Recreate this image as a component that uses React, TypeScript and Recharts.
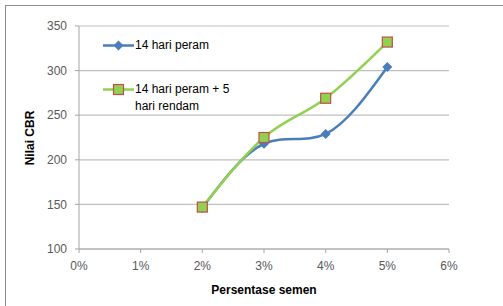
import { CartesianGrid, Line, LineChart, XAxis, YAxis } from 'recharts';

const cementPct = [2, 3, 4, 5];
const cbrPeram = [146, 218, 229, 304];
const cbrPeramRendam = [147, 225, 269, 332];
const xTicks = [0, 1, 2, 3, 4, 5, 6];
const yTicks = [100, 150, 200, 250, 300, 350];

const data = cementPct.map((x, i) => ({ x, peram: cbrPeram[i], rendam: cbrPeramRendam[i] }));

const blue = '#4A7EBB';
const green = '#92D050';
const red = '#C0504D';
const textGray = '#595959';
const font = '"Liberation Sans", Arial, sans-serif';

const Diamond = ({ cx, cy }: any) => (
	<path d={`M${cx},${cy - 5}L${cx + 5},${cy}L${cx},${cy + 5}L${cx - 5},${cy}Z`} fill={blue} />
);

const Square = ({ cx, cy }: any) => (
	<rect x={cx - 5} y={cy - 5} width={10} height={10} fill={green} stroke={red} strokeWidth={1.2} />
);

const LegendBox = () => (
	<div
		style={{
			position: 'absolute',
			left: 103,
			top: 37,
			fontFamily: font,
			fontSize: 12,
			color: '#000',
			lineHeight: '17px',
		}}
	>
		<div style={{ display: 'flex', alignItems: 'flex-start' }}>
			<svg width={31} height={17}>
				<line x1={0} y1={8.5} x2={31} y2={8.5} stroke={blue} strokeWidth={2.5} />
				<Diamond cx={15.5} cy={8.5} />
			</svg>
			<span style={{ marginLeft: 1 }}>14 hari peram</span>
		</div>
		<div style={{ display: 'flex', alignItems: 'flex-start', marginTop: 27 }}>
			<svg width={31} height={17}>
				<line x1={0} y1={8.5} x2={31} y2={8.5} stroke={green} strokeWidth={2.5} />
				<Square cx={15.5} cy={8.5} />
			</svg>
			<span style={{ marginLeft: 1 }}>
				14 hari peram + 5
				<br />
				hari rendam
			</span>
		</div>
	</div>
);

export default function App() {
	return (
		<div style={{ position: 'absolute', left: 0, top: 0, width: 503, height: 306, background: '#fff', overflow: 'hidden' }}>
			<div
				style={{
					position: 'absolute',
					left: 5,
					top: 5,
					width: 520,
					height: 320,
					borderLeft: '1px solid #8C8C8C',
					borderTop: '1px solid #8C8C8C',
				}}
			/>
			<LineChart
				width={503}
				height={306}
				data={data}
				margin={{ top: 26, right: 54, bottom: 27, left: 0 }}
				style={{ position: 'absolute', left: 0, top: 0 }}
			>
				<CartesianGrid vertical={false} stroke="#BFBFBF" strokeWidth={1.2} />
				<XAxis
					type="number"
					dataKey="x"
					domain={[0, 6]}
					ticks={xTicks}
					tickFormatter={(v) => `${v}%`}
					stroke="#A6A6A6"
					tickSize={4}
					tickMargin={8}
					height={30}
					tick={{ fontSize: 12, fill: textGray, fontFamily: font }}
					label={{
						content: () => (
							<text x={264} y={290} textAnchor="middle" dominantBaseline="central" fontFamily={font} fontSize={12} fontWeight="bold" fill="#000">
								Persentase semen
							</text>
						),
					}}
				/>
				<YAxis
					domain={[100, 350]}
					ticks={yTicks}
					width={79}
					stroke="#A6A6A6"
					tickSize={4}
					tickMargin={8}
					tick={{ fontSize: 12, fill: textGray, fontFamily: font }}
					label={{
						content: () => (
							<text
								x={30}
								y={138}
								transform="rotate(-90 30 138)"
								textAnchor="middle"
								dominantBaseline="central"
								fontFamily={font}
								fontSize={12}
								fontWeight="bold"
								fill="#000"
							>
								Nilai CBR
							</text>
						),
					}}
				/>
				<Line
					type="natural"
					dataKey="peram"
					stroke={blue}
					strokeWidth={2.5}
					dot={<Diamond />}
					activeDot={false}
					isAnimationActive={false}
				/>
				<Line
					type="monotone"
					dataKey="rendam"
					stroke={green}
					strokeWidth={2.5}
					dot={<Square />}
					activeDot={false}
					isAnimationActive={false}
				/>
			</LineChart>
			<LegendBox />
		</div>
	);
}
